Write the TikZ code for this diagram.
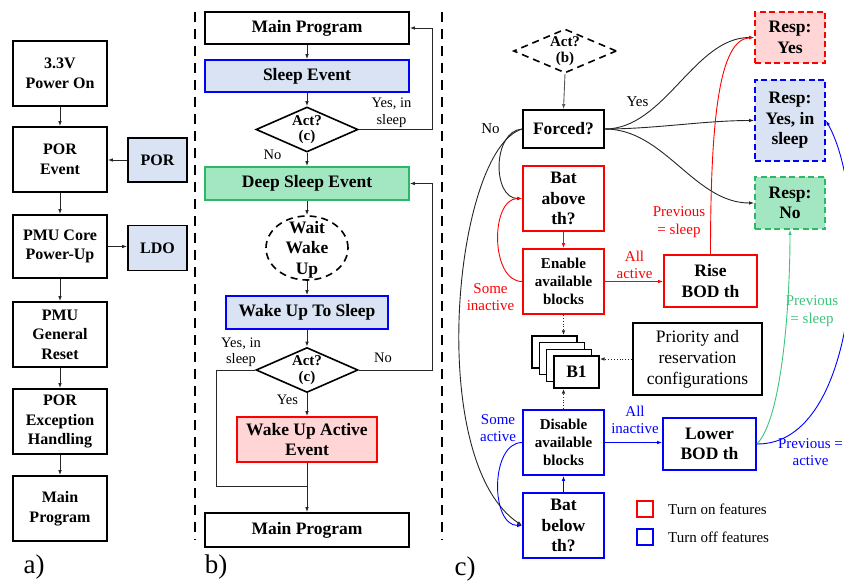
\documentclass[tikz,border=0pt]{standalone}
\usepackage{fontspec}
\setmainfont{Liberation Serif}
\usetikzlibrary{arrows.meta,shapes.geometric}

\definecolor{fillblue}{HTML}{DAE3F3}
\definecolor{fillred}{HTML}{FFD5D5}
\definecolor{fillgreen}{HTML}{A3E7C2}
\definecolor{edgeblue}{HTML}{0000FF}
\definecolor{edgered}{HTML}{FF0000}
\definecolor{edgegreen}{HTML}{2DB866}
\definecolor{linkgreen}{HTML}{3CC47A}

\newcommand\fntA{\fontsize{16}{19.5}\selectfont\bfseries}
\newcommand\fntB{\fontsize{17.5}{20.5}\selectfont\bfseries}
\newcommand\fntSm{\fontsize{15}{18}\selectfont\bfseries}
\newcommand\fntDia{\fontsize{15}{15.5}\selectfont\bfseries}
\newcommand\fntLab{\fontsize{15}{17.5}\selectfont}
\newcommand\fntLabB{\fontsize{14.5}{16.5}\selectfont}
\newcommand\fntPrio{\fontsize{17.5}{21}\selectfont}
\newcommand\fntBig{\fontsize{27}{30}\selectfont}

\begin{document}
\begin{tikzpicture}[x=1pt,y=-1pt,
  sz/.style 2 args={minimum width=#1pt,minimum height=#2pt},
  box/.style={draw,line width=1.7pt,inner sep=0pt,align=center,fill=white},
  redbox/.style={box,draw=edgered},
  bluebox/.style={box,draw=edgeblue},
  greenbox/.style={box,draw=edgegreen},
  respbox/.style={box,line width=1.9pt,dash pattern=on 6pt off 3.5pt},
  decision/.style={diamond,draw,line width=1.6pt,inner sep=0pt,aspect=2.3,
    minimum width=102pt,minimum height=45pt,font=\fntDia,align=center,fill=white},
  arr/.style={-{Latex[length=5pt,width=3.6pt]},line width=0.9pt,draw=black!85},
  dotarr/.style={arr,dotted,line width=1pt},
  lbl/.style={align=center,inner sep=0pt},
  divider/.style={line width=2.5pt,dash pattern=on 10pt off 7pt},
  stackbox/.style={draw,line width=1.4pt,fill=white,inner sep=0pt,sz={45}{32}},
]
\useasboundingbox (0,0) rectangle (844,583);

% ---------- a) power-on sequence ----------
\node[box,sz={94}{65},font=\fntA] (a1) at (60,73.5) {3.3V\\Power On};
\node[box,sz={94}{65},font=\fntA] (a2) at (60,159.5) {POR\\Event};
\node[box,sz={94}{63},font=\fntA] (a3) at (60,246.5) {PMU Core\\Power-Up};
\node[box,sz={94}{65},font=\fntA] (a4) at (60,334.5) {PMU\\General\\Reset};
\node[box,sz={94}{65},font=\fntA] (a5) at (60,421.5) {POR\\Exception\\Handling};
\node[box,sz={94}{65},font=\fntA] (a6) at (60,508.5) {Main\\Program};
\node[box,fill=fillblue,sz={59}{44},font=\fntA] (por) at (157.5,160) {POR};
\node[box,fill=fillblue,sz={59}{45},font=\fntA] (ldo) at (157.5,248) {LDO};

\draw[arr] (a1.south) -- (a2.north);
\draw[arr] (a2.south) -- (a3.north);
\draw[arr] (a3.south) -- (a4.north);
\draw[arr] (a4.south) -- (a5.north);
\draw[arr] (a5.south) -- (a6.north);
\draw[arr] (por.west) -- (por.west -| a2.east);
\draw[arr] (a3.east) -- (a3.east -| ldo.west);

\node[font=\fntBig] (lbla) at (34,567) {a)};

% panel separators
\draw[divider] (195,12) -- (195,540);
\draw[divider] (442,12) -- (442,540);

% ---------- b) sleep / wake-up flow ----------
\node[box,sz={204}{32},font=\fntB] (b1) at (307,28) {Main Program};
\node[bluebox,fill=fillblue,sz={204}{32},font=\fntB] (b2) at (307,76) {Sleep Event};
\node[decision] (d1) at (307,129.5) {Act?\\(c)};
\node[greenbox,fill=fillgreen,sz={204}{33},font=\fntB] (b3) at (307,183.5) {Deep Sleep Event};
\node[ellipse,draw,line width=1.6pt,dash pattern=on 7pt off 5pt,inner sep=0pt,
  minimum width=82pt,minimum height=64pt] (wait) at (307,248) {};
\node[lbl,font=\fntB] (waittxt) at (307,249.5) {Wait\\Wake\\Up};
\node[bluebox,fill=fillblue,sz={162}{33},font=\fntB] (b4) at (307,312.5) {Wake Up To Sleep};
\node[decision] (d2) at (307,370) {Act?\\(c)};
\node[redbox,fill=fillred,sz={140}{45},font=\fntB] (b5) at (307,439.5) {Wake Up Active\\Event};
\node[box,sz={204}{34},font=\fntB] (b6) at (307,530) {Main Program};

\coordinate (rtop) at (432,28);
\coordinate (rmid) at (432,183.5);
\coordinate (lbot) at (216,486);
\coordinate (join) at (307,486);

\draw[arr] (b1.south) -- (b2.north);
\draw[arr] (b2.south) -- (d1.north);
\draw[arr] (d1.south) -- (b3.north);
\draw[arr] (d1.east) -| (rtop) -- (b1.east);
\draw[arr] (b3.south) -- (wait.north);
\draw[arr] (wait.south) -- (b4.north);
\draw[arr] (b4.south) -- (d2.north);
\draw[arr] (d2.south) -- (b5.north);
\draw[arr] (d2.east) -| (rmid) -- (b3.east);
\draw[line width=0.9pt,draw=black!85] (d2.west) -| (lbot) -- (join);
\draw[line width=0.9pt,draw=black!85] (b5.south) -- (join);
\draw[arr] (join) -- (b6.north);

\node[lbl,font=\fntLabB] (l1) at (391.5,112.5) {Yes, in\\sleep};
\node[lbl,font=\fntLabB] (l2) at (272.5,155) {No};
\node[lbl,font=\fntLabB] (l3) at (241,352) {Yes, in\\sleep};
\node[lbl,font=\fntLabB] (l4) at (383,358) {No};
\node[lbl,font=\fntLabB] (l5) at (287.5,400) {Yes};

\node[font=\fntBig] (lblb) at (216,567) {b)};

% ---------- c) activation decision ----------
\node[decision,dash pattern=on 7pt off 5pt,minimum width=103pt,minimum height=44pt] (act) at (565,51) {Act?\\(b)};
\node[box,sz={81}{38},font=\fntB] (forced) at (563.5,129) {Forced?};
\node[redbox,sz={81}{65},font=\fntB] (batabove) at (563.5,198.5) {Bat\\above\\th?};
\node[redbox,sz={81}{65},font=\fntSm] (enable) at (563.5,281.5) {Enable\\available\\blocks};
\node[redbox,sz={93}{52},font=\fntB] (rise) at (710.5,281) {Rise\\BOD th};
\node[bluebox,sz={81}{65},font=\fntSm] (disable) at (563.5,442.5) {Disable\\available\\blocks};
\node[bluebox,sz={93}{52},font=\fntB] (lower) at (709.5,444) {Lower\\BOD th};
\node[bluebox,sz={81}{65},font=\fntB] (batbelow) at (563.5,525.5) {Bat\\below\\th?};
\node[box,sz={129}{72},font=\fntPrio,line width=1.9pt] (prio) at (697.5,359) {Priority and\\reservation\\configurations};

\node[stackbox] (stk1) at (554.5,352) {};
\node[stackbox] (stk2) at (561.8,358.7) {};
\node[stackbox] (stk3) at (569.2,365.3) {};
\node[stackbox,font=\fntB] (blk) at (576.5,372) {B1};

\node[respbox,draw=edgered,fill=fillred,sz={70}{51},font=\fntB] (respyes) at (790,37.5) {Resp:\\Yes};
\node[respbox,draw=edgeblue,fill=fillblue,sz={70}{81},font=\fntB] (respsleep) at (790,120.5) {Resp:\\Yes, in\\sleep};
\node[respbox,draw=edgegreen,fill=fillgreen,sz={70}{52},font=\fntB] (respno) at (790,203) {Resp:\\No};

\draw[arr,draw=black!65] (act.south) -- (forced.north);
\draw[arr] (forced.east) .. controls +(60,0) and +(-60,0) .. (respyes.west);
\draw[arr] (forced.east) .. controls +(50,0) and +(-50,0) .. (respsleep.west);
\draw[arr] (forced.east) .. controls +(60,0) and +(-60,0) .. (respno.west);
\draw[arr] (forced.west) .. controls +(-30,2) and +(-30,0) .. (batabove.west);
\draw[arr] (forced.west) .. controls +(-68,20) and +(-98,-65) .. (batbelow.west);

\draw[arr,draw=edgered] (batabove.south) -- (enable.north);
\draw[arr,draw=edgered] (enable.west) .. controls +(-32,0) and +(-32,0) .. (batabove.west);
\draw[arr,draw=edgered] (enable.east) -- (enable.east -| rise.west);
\draw[arr,draw=edgered] (rise.north) .. controls +(0,-135) and +(-35,2) .. (respyes.west);

\draw[arr,draw=edgeblue] (batbelow.north) -- (disable.south);
\draw[arr,draw=edgeblue] (disable.west) .. controls +(-32,0) and +(-32,0) .. (batbelow.west);
\draw[arr,draw=edgeblue] (disable.east) -- (disable.east -| lower.west);
\draw[arr,draw=linkgreen] (lower.east) .. controls +(25,-25) and +(0,75) .. (respno.south);
\draw[arr,draw=edgeblue] (lower.east) .. controls +(104,1) and +(45,80) .. (respsleep.east);

\draw[dotarr] (enable.south) -- (enable.south |- stk1.north);
\draw[dotarr] (disable.north) -- (disable.north |- blk.south);
\draw[dotarr] (prio.west) -- (prio.west -| blk.east);

\node[lbl,font=\fntLab] (cyes) at (637.5,102) {Yes};
\node[lbl,font=\fntLab] (cno) at (490.5,129) {No};
\node[lbl,font=\fntLab,text=edgered] (c1) at (490.5,297) {Some\\inactive};
\node[lbl,font=\fntLab,text=edgered] (c2) at (634.5,265) {All\\active};
\node[lbl,font=\fntLab,text=edgered] (c3) at (679,222) {Previous\\= sleep};
\node[lbl,font=\fntLab,text=edgeblue] (c4) at (498,428) {Some\\active};
\node[lbl,font=\fntLab,text=edgeblue] (c5) at (635,420) {All\\inactive};
\node[lbl,font=\fntLab,text=linkgreen] (c6) at (812,311) {Previous\\= sleep};
\node[lbl,font=\fntLab,text=edgeblue] (c7) at (810.5,452) {Previous =\\active};

% legend
\node[draw=edgered,line width=1.8pt,minimum size=16pt,inner sep=0pt] (legon) at (645,509) {};
\node[anchor=west,font=\fntLab,inner sep=0pt] (legontxt) at (668,509) {Turn on features};
\node[draw=edgeblue,line width=1.8pt,minimum size=16pt,inner sep=0pt] (legoff) at (645,537) {};
\node[anchor=west,font=\fntLab,inner sep=0pt] (legofftxt) at (668,537) {Turn off features};

\node[font=\fntBig] (lblc) at (465,569) {c)};
\end{tikzpicture}
\end{document}
